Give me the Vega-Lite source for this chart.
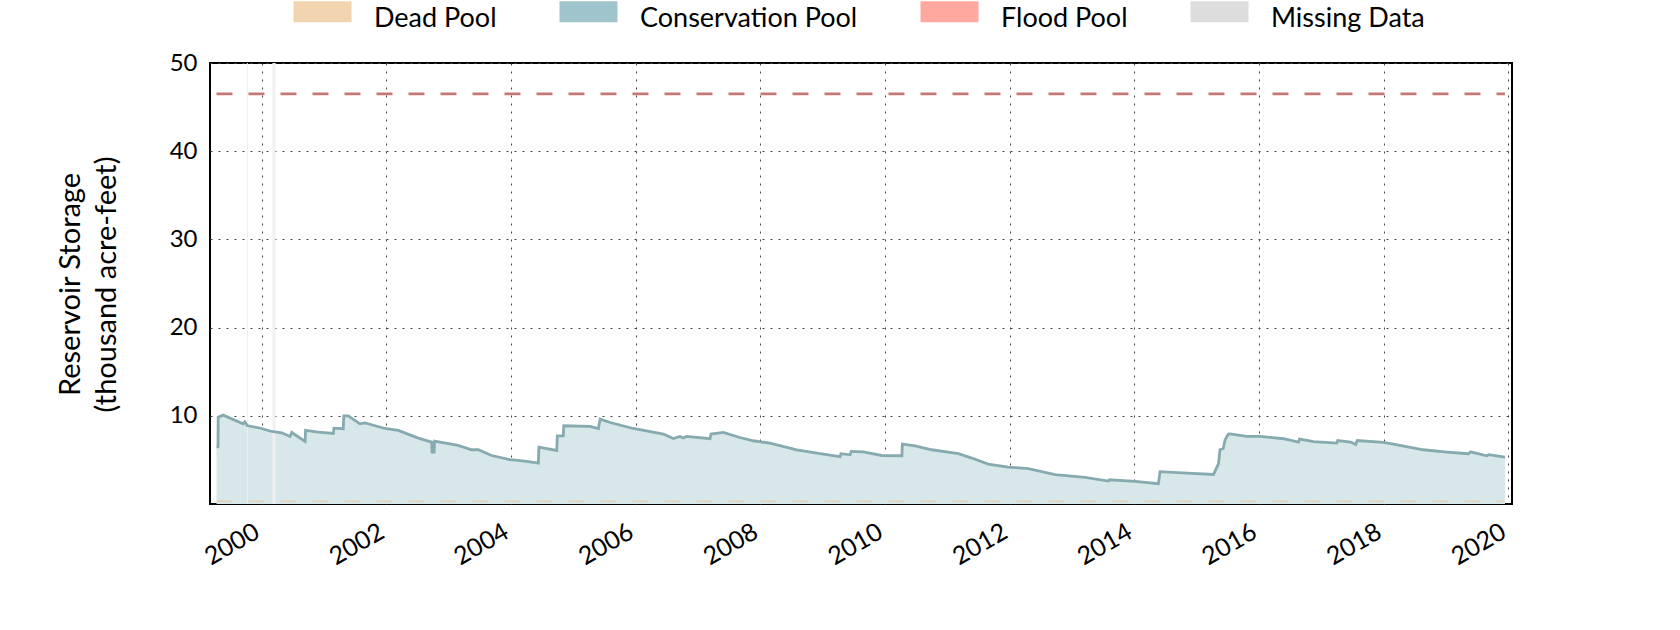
{
  "$schema": "https://vega.github.io/schema/vega-lite/v6.json",
  "width": 1302,
  "height": 441,
  "autosize": {"type": "none"},
  "padding": {"left": 210, "top": 63, "right": 168, "bottom": 126},
  "background": "white",
  "config": {
    "font": "Lato",
    "view": {"stroke": "black", "strokeWidth": 2},
    "axis": {
      "labelFontSize": 24,
      "labelColor": "black",
      "labelFont": "Lato",
      "grid": true,
      "gridDash": [2, 6],
      "gridColor": "#444444",
      "gridWidth": 1,
      "ticks": false,
      "domain": false,
      "zindex": 1
    }
  },
  "datasets": {
    "storage": [
      {"date": "1999-04-11", "storage": 6.45},
      {"date": "1999-04-20", "storage": 6.5},
      {"date": "1999-04-21", "storage": 9.85},
      {"date": "1999-05-20", "storage": 10.08},
      {"date": "1999-09-14", "storage": 9.09},
      {"date": "1999-09-24", "storage": 9.32},
      {"date": "1999-10-08", "storage": 8.9},
      {"date": "2000-01-01", "storage": 8.56},
      {"date": "2000-02-28", "storage": 8.22},
      {"date": "2000-04-27", "storage": 8.07},
      {"date": "2000-06-15", "storage": 7.66},
      {"date": "2000-06-25", "storage": 8.11},
      {"date": "2000-09-11", "storage": 7.09},
      {"date": "2000-09-14", "storage": 8.34},
      {"date": "2000-11-28", "storage": 8.15},
      {"date": "2001-02-24", "storage": 8.0},
      {"date": "2001-02-27", "storage": 8.6},
      {"date": "2001-04-23", "storage": 8.53},
      {"date": "2001-04-26", "storage": 10.0},
      {"date": "2001-05-22", "storage": 10.0},
      {"date": "2001-07-30", "storage": 9.09},
      {"date": "2001-08-28", "storage": 9.2},
      {"date": "2001-12-23", "storage": 8.56},
      {"date": "2002-03-11", "storage": 8.34},
      {"date": "2002-07-07", "storage": 7.47},
      {"date": "2002-09-23", "storage": 7.02},
      {"date": "2002-09-25", "storage": 5.89},
      {"date": "2002-10-07", "storage": 5.89},
      {"date": "2002-10-10", "storage": 7.13},
      {"date": "2003-02-25", "storage": 6.64},
      {"date": "2003-05-15", "storage": 6.15},
      {"date": "2003-06-23", "storage": 6.15},
      {"date": "2003-09-09", "storage": 5.5},
      {"date": "2003-12-25", "storage": 5.02},
      {"date": "2004-03-22", "storage": 4.87},
      {"date": "2004-06-09", "storage": 4.64},
      {"date": "2004-06-12", "storage": 6.45},
      {"date": "2004-09-25", "storage": 6.07},
      {"date": "2004-09-28", "storage": 7.73},
      {"date": "2004-11-02", "storage": 7.73},
      {"date": "2004-11-05", "storage": 8.87},
      {"date": "2005-04-08", "storage": 8.79},
      {"date": "2005-05-27", "storage": 8.56},
      {"date": "2005-06-06", "storage": 9.63},
      {"date": "2005-08-04", "storage": 9.24},
      {"date": "2005-12-17", "storage": 8.56},
      {"date": "2006-06-12", "storage": 7.93},
      {"date": "2006-08-09", "storage": 7.43},
      {"date": "2006-09-17", "storage": 7.66},
      {"date": "2006-10-05", "storage": 7.48},
      {"date": "2006-10-26", "storage": 7.66},
      {"date": "2007-03-12", "storage": 7.4},
      {"date": "2007-03-18", "storage": 7.93},
      {"date": "2007-05-29", "storage": 8.11},
      {"date": "2007-09-03", "storage": 7.54},
      {"date": "2007-11-20", "storage": 7.17},
      {"date": "2008-02-26", "storage": 6.9},
      {"date": "2008-08-01", "storage": 6.15},
      {"date": "2008-12-16", "storage": 5.7},
      {"date": "2009-04-12", "storage": 5.36},
      {"date": "2009-04-17", "storage": 5.7},
      {"date": "2009-06-10", "storage": 5.58},
      {"date": "2009-06-16", "storage": 5.96},
      {"date": "2009-08-26", "storage": 5.92},
      {"date": "2009-12-12", "storage": 5.5},
      {"date": "2010-04-09", "storage": 5.47},
      {"date": "2010-04-12", "storage": 6.79},
      {"date": "2010-06-25", "storage": 6.6},
      {"date": "2010-10-01", "storage": 6.15},
      {"date": "2011-03-06", "storage": 5.7},
      {"date": "2011-05-24", "storage": 5.21},
      {"date": "2011-08-28", "storage": 4.53},
      {"date": "2011-12-23", "storage": 4.19},
      {"date": "2012-04-19", "storage": 4.0},
      {"date": "2012-09-23", "storage": 3.32},
      {"date": "2013-03-17", "storage": 3.01},
      {"date": "2013-08-01", "storage": 2.6},
      {"date": "2013-08-07", "storage": 2.75},
      {"date": "2014-01-05", "storage": 2.56},
      {"date": "2014-05-21", "storage": 2.3},
      {"date": "2014-05-31", "storage": 3.66},
      {"date": "2014-10-09", "storage": 3.54},
      {"date": "2015-04-09", "storage": 3.35},
      {"date": "2015-05-08", "storage": 4.56},
      {"date": "2015-05-17", "storage": 6.15},
      {"date": "2015-06-05", "storage": 6.3},
      {"date": "2015-06-16", "storage": 7.28},
      {"date": "2015-07-05", "storage": 7.93},
      {"date": "2015-07-15", "storage": 7.96},
      {"date": "2015-10-21", "storage": 7.66},
      {"date": "2016-01-06", "storage": 7.66},
      {"date": "2016-05-23", "storage": 7.4},
      {"date": "2016-08-19", "storage": 7.02},
      {"date": "2016-08-25", "storage": 7.36},
      {"date": "2016-11-15", "storage": 7.06},
      {"date": "2017-03-31", "storage": 6.9},
      {"date": "2017-04-06", "storage": 7.2},
      {"date": "2017-06-21", "storage": 7.02},
      {"date": "2017-07-20", "storage": 6.75},
      {"date": "2017-07-29", "storage": 7.2},
      {"date": "2017-12-30", "storage": 6.98},
      {"date": "2018-02-26", "storage": 6.79},
      {"date": "2018-08-21", "storage": 6.15},
      {"date": "2019-01-05", "storage": 5.89},
      {"date": "2019-05-12", "storage": 5.7},
      {"date": "2019-05-24", "storage": 5.91},
      {"date": "2019-08-27", "storage": 5.47},
      {"date": "2019-09-08", "storage": 5.6},
      {"date": "2019-12-12", "storage": 5.32}
    ],
    "missing": [
      {"start": "1999-10-06", "end": "1999-10-12", "low": 0, "high": 50},
      {"start": "2000-03-04", "end": "2000-03-22", "low": 0, "high": 50}
    ],
    "levels": [
      {"pool": "Dead Pool", "level": 0.3, "start": "1999-04-11", "end": "2019-12-12"},
      {"pool": "Flood Pool", "level": 46.5, "start": "1999-04-11", "end": "2019-12-12"}
    ],
    "legend": [
      {"pool": "Dead Pool"},
      {"pool": "Conservation Pool"},
      {"pool": "Flood Pool"},
      {"pool": "Missing Data"}
    ]
  },
  "encoding": {
    "x": {
      "field": "date",
      "type": "temporal",
      "scale": {
        "type": "utc",
        "domain": [
          {"year": 1999, "month": 3, "date": 4, "utc": true},
          {"year": 2020, "month": 1, "date": 22, "utc": true}
        ]
      },
      "axis": {
        "title": null,
        "format": "%Y",
        "formatType": "utc",
        "tickCount": {"interval": "year", "step": 2},
        "labelAngle": -30,
        "labelAlign": "right",
        "labelBaseline": "top",
        "labelPadding": 15,
        "labelOffset": -11,
        "labelFontSize": 25,
        "labelFlush": false,
        "labelOverlap": false,
        "labelBound": false
      }
    }
  },
  "layer": [
    {
      "data": {"name": "storage"},
      "mark": {"type": "area", "color": "#d7e7ea", "opacity": 1},
      "encoding": {
        "y": {
          "field": "storage",
          "type": "quantitative",
          "scale": {"domain": [0, 50], "nice": false, "zero": true},
          "axis": {
            "values": [10, 20, 30, 40, 50],
            "labelPadding": 13,
            "title": ["Reservoir Storage", "(thousand acre-feet)"],
            "titleFontSize": 29,
            "titleFontWeight": "normal",
            "titleColor": "black",
            "titleFont": "Lato",
            "titleAngle": -90,
            "titleAlign": "center",
            "titleBaseline": "top",
            "titleX": -154,
            "titleY": 221,
            "titleLineHeight": 36
          }
        }
      }
    },
    {
      "data": {"name": "levels"},
      "transform": [{"filter": "datum.pool === 'Dead Pool'"}],
      "mark": {"type": "rule", "color": "#e9c99e", "strokeWidth": 2, "strokeDash": [16, 16], "opacity": 0.6},
      "encoding": {
        "x": {"field": "start", "type": "temporal"},
        "x2": {"field": "end"},
        "y": {"field": "level", "type": "quantitative"}
      }
    },
    {
      "data": {"name": "missing"},
      "mark": {"type": "rect", "color": "#f0f0f0"},
      "encoding": {
        "x": {"field": "start", "type": "temporal"},
        "x2": {"field": "end"},
        "y": {"field": "low", "type": "quantitative"},
        "y2": {"field": "high"}
      }
    },
    {
      "data": {"name": "storage"},
      "mark": {"type": "line", "color": "#86aab0", "strokeWidth": 2.8},
      "encoding": {
        "y": {"field": "storage", "type": "quantitative"}
      }
    },
    {
      "data": {"name": "levels"},
      "transform": [{"filter": "datum.pool === 'Flood Pool'"}],
      "mark": {"type": "rule", "color": "#c87872", "strokeWidth": 2.7, "strokeDash": [16, 16]},
      "encoding": {
        "x": {"field": "start", "type": "temporal"},
        "x2": {"field": "end"},
        "y": {"field": "level", "type": "quantitative"}
      }
    },
    {
      "data": {"name": "legend"},
      "mark": {"type": "square", "opacity": 0, "filled": true},
      "encoding": {
        "x": {"value": 0},
        "y": {"value": 0},
        "fill": {
          "field": "pool",
          "type": "nominal",
          "scale": {
            "domain": ["Dead Pool", "Conservation Pool", "Flood Pool", "Missing Data"],
            "range": ["#f2d4b0", "#a0c4cb", "#ffa8a0", "#dddddd"]
          },
          "legend": {
            "title": null,
            "orient": "none",
            "direction": "horizontal",
            "legendX": 81,
            "legendY": -57.5,
            "padding": 0,
            "symbolType": "M-1,-1.637H4.273V0.273H-1Z",
            "symbolSize": 484,
            "symbolOpacity": 1,
            "symbolStrokeWidth": 0,
            "labelOffset": 56,
            "columnPadding": 60,
            "labelFontSize": 27,
            "labelFont": "Lato",
            "labelColor": "black",
            "labelLimit": 400
          }
        }
      }
    }
  ]
}
